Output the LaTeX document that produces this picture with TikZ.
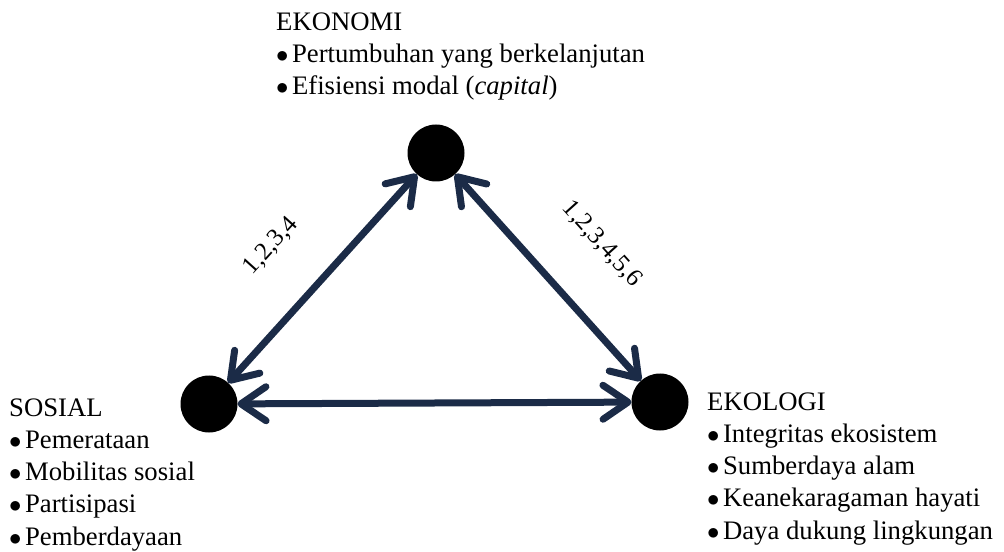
\documentclass[tikz,border=0pt]{standalone}
\usepackage{fontspec}
\setmainfont{Liberation Serif}
\usetikzlibrary{arrows.meta}
\definecolor{linknavy}{HTML}{1B2B47}
\tikzset{barb/.tip={Straight Barb[length=25bp, width=34bp, line cap=round, line join=round]}}
\newcommand{\itm}{$\bullet$\kern3.5bp}
\begin{document}
\begin{tikzpicture}[x=1bp,y=-1bp,
  pillar/.style={circle, fill=black, minimum size=57bp, inner sep=0pt, outer sep=0pt},
  link/.style={draw=linknavy, line width=7bp, line cap=round, barb-barb},
  caption/.style={anchor=base west, align=left, inner sep=0pt, font=\fontsize{26.8}{32.3}\selectfont},
  tag/.style={inner sep=0pt, font=\fontsize{25}{30}\selectfont}]
\useasboundingbox (0,0) rectangle (1004,552);

% the three pillars
\node[pillar] (eko) at (436,153) {};
\node[pillar] (sos) at (209,404) {};
\node[pillar] (ekl) at (660,402) {};

% two-way links between pillars
\draw[link] (eko) -- (sos);
\draw[link] (eko) -- (ekl);
\draw[link] (sos) -- (ekl);

% link labels
\node[tag, rotate=48] (lsos) at (271,246) {1,2,3,4};
\node[tag, rotate=-48] (lekl) at (602,244) {1,2,3,4,5,6};

% pillar descriptions (anchored at the baseline of the last line)
\node[caption] (teko) at (276,95) {EKONOMI\\
  \itm Pertumbuhan yang berkelanjutan\\
  \itm Efisiensi modal (\textit{capital})};
\node[caption] (tsos) at (9,545) {SOSIAL\\
  \itm Pemerataan\\
  \itm Mobilitas sosial\\
  \itm Partisipasi\\
  \itm Pemberdayaan};
\node[caption] (tekl) at (707,539) {EKOLOGI\\
  \itm Integritas ekosistem\\
  \itm Sumberdaya alam\\
  \itm Keanekaragaman hayati\\
  \itm Daya dukung lingkungan};
\end{tikzpicture}
\end{document}
